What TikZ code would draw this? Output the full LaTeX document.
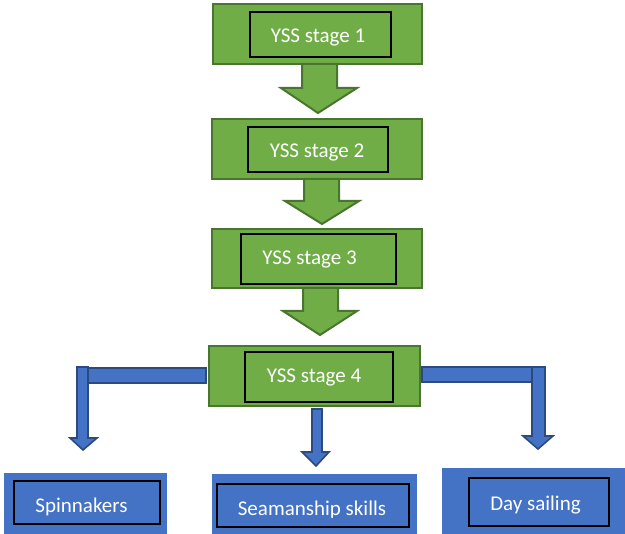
\documentclass[tikz,border=0pt]{standalone}
\usepackage{fontspec}
\setmainfont{Carlito}
\definecolor{gfill}{HTML}{70AD47}
\definecolor{gline}{HTML}{4A7530}
\definecolor{bfill}{HTML}{4472C4}
\definecolor{bline}{HTML}{2A4A80}
\tikzset{
  greenbox/.style={draw=gline, fill=gfill, line width=2.2pt, inner sep=0pt},
  bluebox/.style={draw=none, fill=bfill, inner sep=0pt},
  innerbox/.style={draw=black, line width=1.1pt, inner sep=0pt},
  label/.style={text=white, font=\fontsize{21}{25}\selectfont, inner sep=0pt, anchor=base},
  garrow/.style={draw=gline, fill=gfill, line width=2pt, line join=miter},
  barrow/.style={draw=bline, fill=bfill, line width=1.6pt, line join=miter},
}
\begin{document}
\begin{tikzpicture}[x=1pt,y=-1pt]
\useasboundingbox (0,0) rectangle (625,534);
\clip (0,0) rectangle (625,534);
% green stage boxes
\path[greenbox] (213,4) rectangle (422,64);
\path[innerbox] (250,12) rectangle (391,57);
\node[label] (t1) at (318,43) {YSS stage 1};
\path[greenbox] (212,119) rectangle (422,179);
\path[innerbox] (248,127) rectangle (388,172);
\node[label] (t2) at (317,158) {YSS stage 2};
\path[greenbox] (212,229) rectangle (422,288);
\path[innerbox] (241,234) rectangle (396,284);
\node[label] (t3) at (309.5,265) {YSS stage 3};
\path[greenbox] (209,346) rectangle (420,406);
\path[innerbox] (245,352) rectangle (393,402);
\node[label] (t4) at (314,383) {YSS stage 4};
% green block arrows
\path[garrow] (302,64) -- (337,64) -- (337,88) -- (357,88) -- (318,113) -- (281,88) -- (302,88) -- cycle;
\path[garrow] (304,179) -- (339,179) -- (339,201) -- (359,201) -- (322,224) -- (285,201) -- (304,201) -- cycle;
\path[garrow] (303,288) -- (338,288) -- (338,311) -- (357,311) -- (320,335) -- (283,311) -- (303,311) -- cycle;
% blue connectors
\path[barrow] (88,368) rectangle (206,383);
\path[barrow] (77,367) -- (88,367) -- (88,438) -- (97,438) -- (83,450) -- (70,438) -- (77,438) -- cycle;
\path[barrow] (312,409) -- (322,409) -- (322,452) -- (329,452) -- (316,466) -- (302,452) -- (312,452) -- cycle;
\path[barrow] (422,367) rectangle (532,382);
\path[barrow] (532,367) -- (545,367) -- (545,436) -- (553,436) -- (538,449) -- (523,436) -- (532,436) -- cycle;
% blue boxes
\path[bluebox] (4,473) rectangle (167,540);
\path[innerbox] (14,481) rectangle (160,524);
\node[label] (b1) at (81.5,513) {Spinnakers};
\path[bluebox] (212,474) rectangle (417,540);
\path[innerbox] (217,484) rectangle (409,527);
\begin{scope}
\clip (212,474) rectangle (417,517.5);
\node[label] (b2) at (312,516) {Seamanship skills};
\end{scope}
\path[bluebox] (442,468) rectangle (625,540);
\path[innerbox] (469,478) rectangle (609,526);
\node[label] (b3) at (535.5,511) {Day sailing};
\end{tikzpicture}
\end{document}
